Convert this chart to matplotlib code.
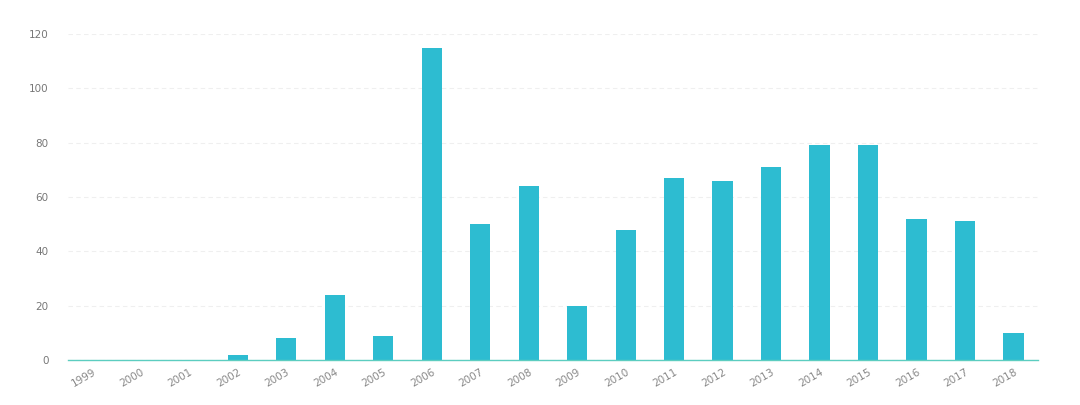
import numpy as np
from matplotlib import pyplot as plt
from matplotlib import transforms

# data
years = [str(y) for y in range(1999, 2019)]
counts = [0, 0, 0, 2, 8, 24, 9, 115, 50, 64, 20, 48, 67, 66, 71, 79, 79, 52, 51, 10]
yticks = [0, 20, 40, 60, 80, 100, 120]

fig = plt.figure(figsize=(10.8, 4.05), dpi=100)
ax = fig.add_axes([0.063, 0.111, 0.898, 0.805])

x = np.arange(len(years))
ax.bar(x, counts, width=0.42, color='#2dbcd1', zorder=3)

ax.set_xlim(-0.5, len(years) - 0.5)
ax.set_ylim(0, 120)
ax.set_yticks(yticks)
ax.set_xticks(x)
ax.set_xticklabels(years, rotation=30, ha='right', rotation_mode='anchor',
                   fontsize=7.5, color='#888888')
# nudge labels a little to the right so they end just past the bar centre
offset = transforms.ScaledTranslation(6 / 72, 0, fig.dpi_scale_trans)
for lab in ax.get_xticklabels():
    lab.set_transform(lab.get_transform() + offset)
ax.tick_params(axis='y', labelsize=7.5, colors='#777777', length=0, pad=14)
ax.tick_params(axis='x', length=0, pad=5)

ax.grid(axis='y', linestyle=(0, (4, 3)), color='#efefef', linewidth=0.8, zorder=0)
for s in ['top', 'right', 'left']:
    ax.spines[s].set_visible(False)
ax.spines['bottom'].set_color('#5ccdc0')
ax.spines['bottom'].set_linewidth(1.0)
ax.spines['bottom'].set_zorder(4)

fig.savefig('out.png', dpi=100)
